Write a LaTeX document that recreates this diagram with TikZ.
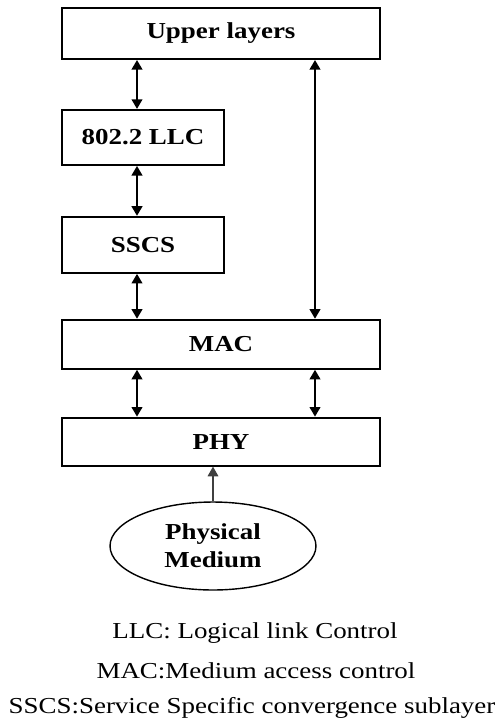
\documentclass[tikz,border=0pt]{standalone}
\usepackage{fontspec}
\setmainfont{Liberation Serif}
\usepackage{graphicx}
\usetikzlibrary{arrows.meta,positioning,shapes.geometric}

\newcommand{\wtxt}[1]{\scalebox{1.18}[1]{#1}}

\begin{document}
\begin{tikzpicture}[x=0.02cm, y=-0.02cm, every node/.style={font=\fontsize{13}{16}\selectfont}, box/.style={draw,line width=1.1pt,inner sep=0pt,font=\fontsize{13}{16}\selectfont\bfseries}, wide/.style={minimum width=6.36cm}, narrow/.style={minimum width=3.24cm}, arr/.style={{Triangle[length=5.5pt,width=6pt]}-{Triangle[length=5.5pt,width=6pt]},line width=1.3pt}]
\useasboundingbox (0,0) rectangle (504,725);
\node[box,wide,minimum height=1.02cm] (upper) at (221,33.5) {\wtxt{Upper layers}};
\node[box,narrow,minimum height=1.1cm,below=0.98cm of upper.south west,anchor=north west] (llc) {\wtxt{802.2 LLC}};
\node[box,narrow,minimum height=1.12cm,below=1cm of llc.south west,anchor=north west] (sscs) {\wtxt{SSCS}};
\node[box,wide,minimum height=0.98cm,below=0.9cm of sscs.south west,anchor=north west] (mac) {\wtxt{MAC}};
\node[box,wide,minimum height=0.96cm,below=0.94cm of mac.south west,anchor=north west] (phy) {\wtxt{PHY}};
\node[ellipse,draw,line width=0.8pt,minimum width=4.12cm,minimum height=1.76cm,inner sep=0pt,align=center,font=\fontsize{13}{16}\selectfont\bfseries] (medium) at (213,546) {\wtxt{Physical}\\\wtxt{Medium}};
\coordinate (lx) at (137,0);
\coordinate (rx) at (315,0);
\foreach \a/\b in {upper/llc,llc/sscs,sscs/mac,mac/phy}
  \draw[arr] (\a.south -| lx) -- (\b.north -| lx);
\draw[arr] (upper.south -| rx) -- (mac.north -| rx);
\draw[arr] (mac.south -| rx) -- (phy.north -| rx);
\draw[-{Triangle[length=5.5pt,width=6pt]},line width=0.9pt,black!75] (medium.north) -- (medium.north |- phy.south);
% legend
\node[anchor=base] (leg1) at (255,638) {\wtxt{LLC: Logical link Control}};
\node[anchor=base] (leg2) at (256,678) {\wtxt{MAC:Medium access control}};
\node[anchor=base] (leg3) at (252,713) {\wtxt{SSCS:Service Specific convergence sublayer}};
\end{tikzpicture}
\end{document}
